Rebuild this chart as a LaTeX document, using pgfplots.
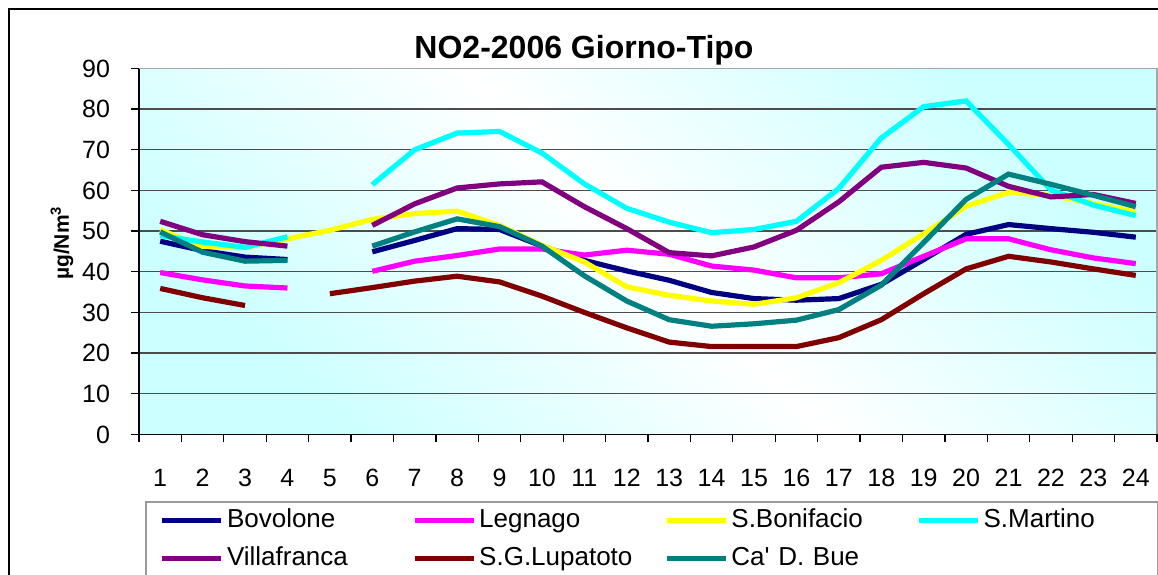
\documentclass[border=0pt]{standalone}
\usepackage{fontspec}
\setmainfont{Liberation Sans}[Ligatures=TeXOff]
\usepackage{pgfplots}
\usepackage{pgfplotstable}
\pgfplotsset{compat=1.18}
\definecolor{cBov}{RGB}{0,0,128}
\definecolor{cLeg}{RGB}{255,0,255}
\definecolor{cBon}{RGB}{255,255,0}
\definecolor{cMar}{RGB}{0,255,255}
\definecolor{cVil}{RGB}{128,0,128}
\definecolor{cLup}{RGB}{128,0,0}
\definecolor{cCad}{RGB}{0,128,128}
\definecolor{bgcyan}{RGB}{204,255,255}
\pgfplotstableread{
h  bov   leg   bon   mar   vil   lup   cad
1  47.5  39.8  50.3  48.9  52.4  35.9  49.8
2  45.2  38.0  46.2  47.3  49.1  33.6  44.8
3  43.6  36.5  46.0  46.0  47.4  31.7  42.6
4  43.0  36.0  48.1  48.6  46.3  nan   42.8
5  nan   nan   50.2  nan   nan   34.6  nan
6  44.9  40.1  52.9  61.4  51.4  36.1  46.3
7  47.7  42.6  54.3  70.0  56.7  37.7  49.8
8  50.6  44.0  54.9  74.1  60.6  38.9  53.0
9  50.4  45.6  51.4  74.5  61.6  37.5  51.1
10 46.3  45.6  46.5  69.2  62.1  34.0  46.3
11 42.8  44.1  42.4  61.6  56.0  30.0  39.0
12 40.2  45.3  36.3  55.6  50.6  26.2  32.8
13 37.9  44.3  34.2  52.2  44.7  22.7  28.2
14 34.9  41.4  32.8  49.6  43.9  21.6  26.6
15 33.4  40.4  32.0  50.4  46.1  21.6  27.2
16 33.0  38.5  33.6  52.4  50.2  21.6  28.1
17 33.4  38.5  37.3  60.5  57.2  23.8  30.7
18 36.9  39.5  42.8  72.9  65.7  28.2  36.7
19 43.0  43.8  49.3  80.6  66.9  34.6  47.2
20 49.2  48.1  56.1  82.0  65.5  40.7  57.8
21 51.6  48.1  59.5  71.3  61.0  43.8  64.0
22 50.6  45.4  58.8  60.1  58.4  42.4  61.5
23 49.7  43.4  56.8  56.4  59.0  40.7  58.8
24 48.5  42.0  54.7  53.8  56.8  39.1  56.0
}\datatable
\begin{document}
\begin{tikzpicture}
\useasboundingbox (-69.5pt,-69.8pt) rectangle (509.5pt,217.2pt);
\fill[white] (-69.5pt,-69.8pt) rectangle (509.5pt,217.2pt);
\draw[black, line width=0.7pt] (-65pt,-90pt) -- (-65pt,212.7pt) -- (520pt,212.7pt);
\begin{axis}[
  at={(0,0)}, anchor=south west,
  scale only axis, width=509pt, height=183pt,
  xmin=0.5, xmax=24.5, ymin=0, ymax=90,
  axis x line*=bottom, axis y line*=left,
  axis line style={black, line width=0.7pt},
  tick align=outside, major tick length=4pt,
  tick style={black, line width=0.6pt},
  xtick={0.5,1.5,...,24.5},
  xticklabels={1,2,3,4,5,6,7,8,9,10,11,12,13,14,15,16,17,18,19,20,21,22,23,24,{}},
  xticklabel style={xshift=10.6pt, yshift=-10pt},
  ytick={0,10,...,90},
  yticklabel style={xshift=-7pt},
  ticklabel style={font=\fontsize{12.5}{14}\selectfont},
  /pgf/number format/assume math mode=true,
  ymajorgrids, major grid style={black!70, line width=0.6pt},
  unbounded coords=jump,
  axis background/.style={shading=axis, top color=bgcyan, bottom color=bgcyan, middle color=white, shading angle=-45},
  every axis plot/.append style={line width=2.6pt, no markers},
  legend image code/.code={\draw[#1] (0pt,0pt) -- (29.5pt,0pt);},
  legend columns=4,
  legend cell align=left,
  legend style={at={(axis description cs:0.0059,-0.182)}, anchor=north west,
    draw=gray!80, line width=0.8pt, fill=white,
    inner xsep=7pt, inner ysep=0pt, row sep=0pt,
    font=\fontsize{13}{15}\selectfont,
    nodes={text width=80pt, inner xsep=0pt, inner ysep=3.2pt, text height=9.5pt, text depth=3pt},
    /tikz/every odd column/.append style={column sep=1.5pt},
    /tikz/every even column/.append style={column sep=12.5pt}},
  after end axis/.code={
    \draw[gray!70, line width=0.8pt] (rel axis cs:0,1) -- (rel axis cs:1,1) -- (rel axis cs:1,0);
  },
]
\addplot[cBov] table[x=h, y=bov] {\datatable};
\addlegendentry{Bovolone}
\addplot[cLeg] table[x=h, y=leg] {\datatable};
\addlegendentry{Legnago}
\addplot[cBon] table[x=h, y=bon] {\datatable};
\addlegendentry{S.Bonifacio}
\addplot[cMar] table[x=h, y=mar] {\datatable};
\addlegendentry{S.Martino}
\addplot[cVil] table[x=h, y=vil] {\datatable};
\addlegendentry{Villafranca}
\addplot[cLup] table[x=h, y=lup] {\datatable};
\addlegendentry{S.G.Lupatoto}
\addplot[cCad] table[x=h, y=cad] {\datatable};
\addlegendentry{Ca' D. Bue}
\end{axis}
\node[font=\fontsize{16}{18}\selectfont\bfseries] at (222.5pt,192pt) {NO2-2006 Giorno-Tipo};
\node[rotate=90, font=\fontsize{10.5}{12}\selectfont\bfseries] at (-38.5pt,95.7pt) {µg/Nm\textsuperscript{3}};
\end{tikzpicture}
\end{document}
